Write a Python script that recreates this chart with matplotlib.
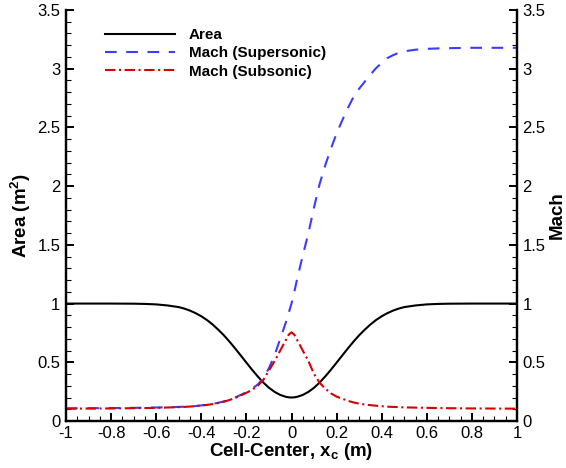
import matplotlib
matplotlib.use('Agg')
from matplotlib import pyplot as plt
from matplotlib.ticker import MultipleLocator, FuncFormatter

plt.rcParams['font.family'] = ['Liberation Sans', 'DejaVu Sans']
plt.rcParams['mathtext.fontset'] = 'custom'
plt.rcParams['mathtext.rm'] = 'Liberation Sans:bold'
plt.rcParams['mathtext.it'] = 'Liberation Sans:bold'
plt.rcParams['mathtext.bf'] = 'Liberation Sans:bold'
plt.rcParams['axes.unicode_minus'] = False

# cell-center positions (m)
xc = [-1.0, -0.9, -0.8, -0.7, -0.65, -0.6, -0.55, -0.5, -0.475, -0.45, -0.425, -0.4,
      -0.375, -0.35, -0.325, -0.3, -0.275, -0.25, -0.225, -0.2, -0.175, -0.15,
      -0.125, -0.1, -0.075, -0.05, -0.025, -0.0125, 0.0, 0.0125, 0.025, 0.05,
      0.075, 0.1, 0.125, 0.15, 0.175, 0.2, 0.225, 0.25, 0.275, 0.3,
      0.325, 0.35, 0.375, 0.4, 0.425, 0.45, 0.475, 0.5, 0.55, 0.6, 0.65, 0.7,
      0.8, 0.9, 1.0]

area = [1.0, 1.0, 1.0, 0.999, 0.997, 0.993, 0.984, 0.970, 0.957, 0.940, 0.918, 0.892,
        0.860, 0.822, 0.778, 0.730, 0.676, 0.618, 0.558, 0.497, 0.437, 0.380,
        0.328, 0.283, 0.248, 0.222, 0.206, 0.2015, 0.200, 0.2015, 0.206, 0.222,
        0.248, 0.283, 0.328, 0.380, 0.437, 0.497, 0.558, 0.618, 0.676, 0.730,
        0.778, 0.822, 0.860, 0.892, 0.918, 0.940, 0.957, 0.970, 0.984, 0.993, 0.997, 0.999,
        1.0, 1.0, 1.0]

mach_sup = [0.108, 0.109, 0.110, 0.112, 0.113, 0.115, 0.117, 0.120, 0.122, 0.124, 0.127, 0.133,
            0.138, 0.146, 0.155, 0.167, 0.182, 0.200, 0.222, 0.245, 0.275, 0.31,
            0.365, 0.45, 0.56, 0.70, 0.84, 0.92, 1.00, 1.10, 1.21, 1.41,
            1.60, 1.82, 2.02, 2.18, 2.32, 2.45, 2.56, 2.665, 2.76, 2.83,
            2.89, 2.95, 3.005, 3.05, 3.09, 3.115, 3.135, 3.148, 3.162, 3.169, 3.173, 3.175,
            3.178, 3.178, 3.178]

mach_sub = [0.105, 0.106, 0.107, 0.109, 0.110, 0.112, 0.115, 0.118, 0.120, 0.123, 0.127, 0.132,
            0.137, 0.144, 0.153, 0.164, 0.179, 0.196, 0.218, 0.24, 0.265, 0.30,
            0.35, 0.43, 0.51, 0.60, 0.69, 0.735, 0.755, 0.735, 0.69, 0.60,
            0.51, 0.40, 0.325, 0.275, 0.235, 0.208, 0.19, 0.172, 0.158, 0.148,
            0.14, 0.135, 0.13, 0.126, 0.122, 0.12, 0.118, 0.116, 0.114, 0.112, 0.110, 0.109,
            0.107, 0.106, 0.105]

fontsize = 13.5
labelsize = 12
lw = 1.5

fig = plt.figure(figsize=(5.66, 4.68), dpi=100)
ax = fig.add_axes([66/566, 47/468, 451/566, 411/468])
ax2 = ax.twinx()

l1, = ax.plot(xc, area, color='black', lw=lw, label='Area')
l2, = ax2.plot(xc, mach_sup, color='#3c3cff', lw=lw, ls=(0, (5.6, 4.6)),
               label='Mach (Supersonic)')
l3, = ax2.plot(xc, mach_sub, color='#d80000', lw=lw, ls=(0, (5, 1.7, 1, 1.7)),
               label='Mach (Subsonic)')

fmt = FuncFormatter(lambda v, p: '%g' % round(v, 3))
for a in (ax, ax2):
    a.set_xlim(-1, 1)
    a.set_ylim(0, 3.5)
    a.spines['top'].set_visible(False)
    for s in ('left', 'right', 'bottom'):
        a.spines[s].set_linewidth(1.6)
    a.yaxis.set_major_locator(MultipleLocator(0.5))
    a.yaxis.set_minor_locator(MultipleLocator(0.1))
    a.yaxis.set_major_formatter(fmt)
    a.tick_params(which='major', direction='in', length=6, width=1.4, labelsize=labelsize, pad=4)
    a.tick_params(which='minor', direction='in', length=3.5, width=0.8)
ax.xaxis.set_major_locator(MultipleLocator(0.2))
ax.xaxis.set_minor_locator(MultipleLocator(0.05))
ax.xaxis.set_major_formatter(fmt)
ax.tick_params(axis='x', which='both', top=False, pad=3.5)
ax.tick_params(axis='y', which='both', right=False)

ax.set_xlabel(r'Cell-Center, x$_{\mathrm{c}}$ (m)', fontsize=fontsize, fontweight='bold', labelpad=0)
ax.set_ylabel(r'Area (m$^{\mathrm{2}}$)', fontsize=fontsize, fontweight='bold', labelpad=3)
ax2.set_ylabel('Mach', fontsize=fontsize, fontweight='bold', rotation=90, labelpad=2)

fig.legend(handles=[l1, l2, l3], loc='upper left', bbox_to_anchor=(105/566, 1 - 28/468),
           frameon=False, borderpad=0, borderaxespad=0, handlelength=4.6,
           handletextpad=0.9, labelspacing=0.28, prop={'weight': 'bold', 'size': 11})

fig.savefig('out.png', dpi=100)
